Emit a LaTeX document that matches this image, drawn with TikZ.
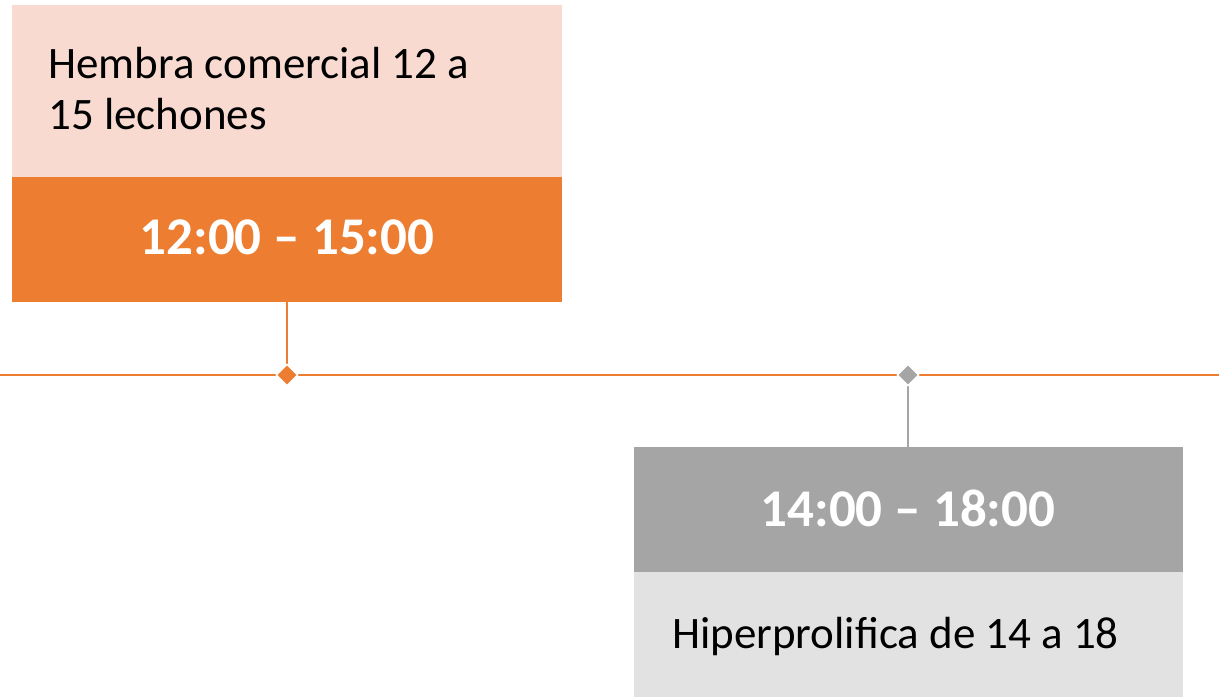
\documentclass[tikz,border=0pt]{standalone}
\usepackage{fontspec}
\setmainfont{Carlito}
\usetikzlibrary{backgrounds}
\definecolor{pinkfill}{HTML}{F8DAD0}
\definecolor{orangefill}{HTML}{ED7D31}
\definecolor{greyfill}{HTML}{A5A5A5}
\definecolor{lightgrey}{HTML}{E2E2E2}
\begin{document}
\begin{tikzpicture}[x=1pt,y=-1pt,
  box/.style={rectangle, inner sep=0pt, outer sep=0pt, anchor=north west},
  mark diamond/.style={rectangle, rotate=45, minimum size=15pt, inner sep=0pt, draw=white, line width=1.5pt},
  bodytext/.style={font=\fontsize{45}{50}\selectfont, text=black, inner sep=0pt, anchor=base west, align=left},
  timetext/.style={font=\fontsize{53}{60}\selectfont\bfseries, text=white, inner sep=0pt, anchor=base},
  axis/.style={draw=orangefill, line width=2pt},
  stem/.style={line width=1.2pt}]
\useasboundingbox (0,0) rectangle (1232,697);
% left (orange) entry
\node[box, fill=pinkfill, minimum width=550pt, minimum height=172pt] (pinkbox) at (12,5) {};
\node[box, fill=orangefill, minimum width=550pt, minimum height=125pt] (orangebox) at (12,177) {};
\node[bodytext] (hembra) at (48,78) {Hembra comercial 12 a};
\node[bodytext] (lechones) at (48,129) {15 lechones};
\node[timetext] (t1) at (287,254) {12:00 -- 15:00};
% right (grey) entry
\node[box, fill=greyfill, minimum width=549pt, minimum height=125pt] (greybox) at (634,447) {};
\node[box, fill=lightgrey, minimum width=549pt, minimum height=125pt] (lightbox) at (634,572) {};
\node[timetext] (t2) at (908,526) {14:00 -- 18:00};
\node[bodytext] (hiper) at (672,648) {Hiperprolifica de 14 a 18};
% axis and markers
\coordinate (axstart) at (0,375);
\coordinate (axend) at (1219,375);
\node[mark diamond, fill=orangefill] (d1) at (287,375) {};
\node[mark diamond, fill=greyfill] (d2) at (908,375) {};
\begin{scope}[on background layer]
\draw[axis] (axstart) -- (axend);
\draw[stem, draw=orangefill] (orangebox.south -| d1) -- (d1.center);
\draw[stem, draw=greyfill] (d2.center) -- (greybox.north -| d2);
\end{scope}
\end{tikzpicture}
\end{document}
